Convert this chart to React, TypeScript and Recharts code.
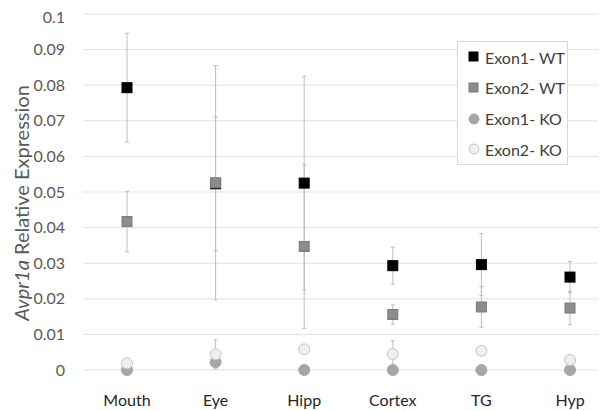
import React from 'react';
import { ComposedChart, Line, XAxis, YAxis, CartesianGrid, ErrorBar, Legend } from 'recharts';

const categories = ['Mouth', 'Eye', 'Hipp', 'Cortex', 'TG', 'Hyp'];
const yTicks = [0, 0.01, 0.02, 0.03, 0.04, 0.05, 0.06, 0.07, 0.08, 0.09, 0.1];

const exon1WT = [0.0793, 0.0523, 0.0525, 0.0293, 0.0296, 0.0261];
const exon1WTErr = [0.0153, 0.0188, 0.03, 0.0052, 0.0087, 0.0044];
const exon2WT = [0.0417, 0.0526, 0.0347, 0.0156, 0.0177, 0.0174];
const exon2WTErr = [0.0085, 0.0329, 0.023, 0.0027, 0.0057, 0.0047];
const exon1KO = [0, 0.0022, 0, 0, 0, 0];
const exon1KOErr = [0, 0.0015, 0, 0, 0, 0];
const exon2KO = [0.0019, 0.0044, 0.0058, 0.0045, 0.0054, 0.0028];
const exon2KOErr = [0, 0.0041, 0, 0.0037, 0, 0];

const data = categories.map((name, i) => ({
  name,
  e1wt: exon1WT[i],
  e1wtErr: exon1WTErr[i],
  e2wt: exon2WT[i],
  e2wtErr: exon2WTErr[i],
  e1ko: exon1KO[i],
  e1koErr: exon1KOErr[i],
  e2ko: exon2KO[i],
  e2koErr: exon2KOErr[i],
}));

const FONT = 'Lato, "Open Sans", sans-serif';

const series = [
  { key: 'e1wt', name: 'Exon1- WT', shape: 'square', fill: '#000000', stroke: '#000000' },
  { key: 'e2wt', name: 'Exon2- WT', shape: 'square', fill: '#8c8c8c', stroke: '#7a7a7a' },
  { key: 'e1ko', name: 'Exon1- KO', shape: 'circle', fill: '#a6a6a6', stroke: '#a6a6a6' },
  { key: 'e2ko', name: 'Exon2- KO', shape: 'circle', fill: '#efefef', stroke: '#c4c4c4' },
];

const makeDot = (shape: string, fill: string, stroke: string) => (props: any) => {
  const { cx, cy, index } = props;
  if (cx == null || cy == null) return <g key={index} />;
  if (shape === 'square') {
    return <rect key={index} x={cx - 5} y={cy - 5} width={10} height={10} fill={fill} stroke={stroke} strokeWidth={1} />;
  }
  return <circle key={index} cx={cx} cy={cy} r={5.5} fill={fill} stroke={stroke} strokeWidth={1} />;
};

const LegendBox = () => (
  <div
    style={{
      width: 111,
      height: 124,
      boxSizing: 'border-box',
      border: '1px solid #d9d9d9',
      background: '#fff',
      position: 'relative',
      fontFamily: FONT,
      fontSize: 16,
      color: '#404040',
    }}
  >
    {series.map((s, i) => (
      <div key={s.key} style={{ position: 'absolute', left: 10, top: 15 + i * 30.8 - 10, height: 20, display: 'flex', alignItems: 'center' }}>
        <svg width={12} height={12} style={{ marginRight: 5 }}>
          {s.shape === 'square' ? (
            <rect x={1} y={1} width={9} height={9} fill={s.fill} stroke={s.stroke} />
          ) : (
            <circle cx={6} cy={6} r={5} fill={s.fill} stroke={s.stroke} />
          )}
        </svg>
        <span style={{ whiteSpace: 'nowrap' }}>{s.name}</span>
      </div>
    ))}
  </div>
);

const YTitle = () => (
  <text
    x={13}
    y={195}
    transform="rotate(-90, 13, 195)"
    textAnchor="middle"
    dominantBaseline="central"
    fontFamily={FONT}
    fontSize={20}
    fill="#595959"
  >
    <tspan fontStyle="italic">Avpr1a</tspan>
    <tspan> Relative Expression</tspan>
  </text>
);

export default function App() {
  return (
    <div style={{ width: 598, height: 403, overflow: 'hidden', position: 'relative' }}>
      <ComposedChart width={620} height={403} data={data} margin={{ top: 6, right: 14, left: 0, bottom: 0 }}>
        <CartesianGrid vertical={false} stroke="#e0e0e0" />
        <XAxis
          dataKey="name"
          axisLine={false}
          tickLine={false}
          height={41}
          tickMargin={19}
          padding={{ left: 44, right: 44 }}
          tick={{ fontSize: 16, fill: '#262626', fontFamily: FONT }}
          interval={0}
        />
        <YAxis
          width={75}
          domain={[0, 0.1]}
          ticks={yTicks}
          axisLine={false}
          tickLine={false}
          tickMargin={12}
          tick={{ fontSize: 16, fill: '#595959', fontFamily: FONT }}
          label={{ content: () => <YTitle /> }}
        />
        <Legend
          layout="horizontal"
          verticalAlign="middle"
          align="center"
          content={() => <LegendBox />}
          wrapperStyle={{ position: 'absolute', left: 449, top: 33, width: 111, height: 124 }}
        />
        {series.map((s) => (
          <Line
            key={s.key}
            dataKey={s.key}
            name={s.name}
            stroke="none"
            isAnimationActive={false}
            dot={makeDot(s.shape, s.fill, s.stroke)}
            activeDot={false}
          >
            <ErrorBar dataKey={`${s.key}Err`} width={2} stroke="#bdbdbd" strokeWidth={1} direction="y" />
          </Line>
        ))}
      </ComposedChart>
    </div>
  );
}
